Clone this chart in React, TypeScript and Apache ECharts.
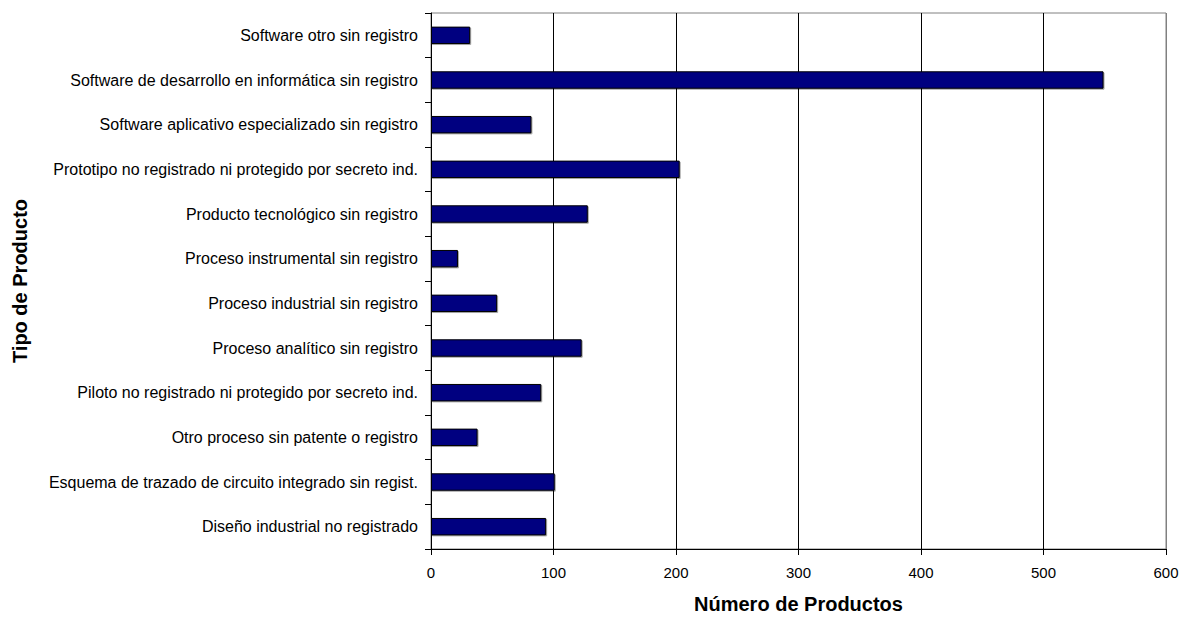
import React, { useEffect, useRef } from "react";
import * as echarts from "echarts";

const categories = [
  "Software otro sin registro",
  "Software de desarrollo en informática sin registro",
  "Software aplicativo especializado sin registro",
  "Prototipo no registrado ni protegido por secreto ind.",
  "Producto tecnológico sin registro",
  "Proceso instrumental sin registro",
  "Proceso industrial sin registro",
  "Proceso analítico sin registro",
  "Piloto no registrado ni protegido por secreto ind.",
  "Otro proceso sin patente o registro",
  "Esquema de trazado de circuito integrado sin regist.",
  "Diseño industrial no registrado",
];
const values = [32, 549, 82, 203, 128, 22, 54, 123, 90, 38, 101, 94];
const xTitle = "Número de Productos";
const yTitle = "Tipo de Producto";

export default function App() {
  const ref = useRef<HTMLDivElement>(null);
  useEffect(() => {
    const chart = echarts.init(ref.current!, null, { renderer: "svg" });
    const font = "Liberation Sans, Arial, sans-serif";
    chart.setOption({
      animation: false,
      backgroundColor: "#ffffff",
      textStyle: { fontFamily: font },
      grid: {
        left: 431,
        right: 18,
        top: 13,
        bottom: 63,
        show: true,
        borderColor: "#808080",
        borderWidth: 1,
        backgroundColor: "transparent",
      },
      xAxis: {
        type: "value",
        min: 0,
        max: 600,
        interval: 100,
        name: xTitle,
        nameLocation: "middle",
        nameGap: 45,
        nameTextStyle: { fontFamily: font, fontSize: 20, fontWeight: "bold", color: "#000" },
        axisLine: { show: true, lineStyle: { color: "#000", width: 1 } },
        axisTick: { show: true, length: 6, lineStyle: { color: "#000" } },
        axisLabel: { color: "#000", fontSize: 15, fontFamily: font, margin: 16 },
        splitLine: {
          show: true,
          lineStyle: { color: ["#000", "#000", "#000", "#000", "#000", "#000", "#808080"], width: 1 },
        },
      },
      yAxis: {
        type: "category",
        data: categories,
        inverse: true,
        name: yTitle,
        nameLocation: "middle",
        nameGap: 401,
        nameRotate: 90,
        nameTextStyle: { fontFamily: font, fontSize: 20, fontWeight: "bold", color: "#000" },
        axisLine: { show: true, lineStyle: { color: "#000", width: 1 } },
        axisTick: { show: true, length: 6, lineStyle: { color: "#000" } },
        axisLabel: { color: "#000", fontSize: 16, fontFamily: font, margin: 13 },
        splitLine: { show: false },
      },
      series: [
        {
          type: "bar",
          data: values,
          barCategoryGap: "61%",
          itemStyle: {
            color: "#000080",
            borderColor: "#000000",
            borderWidth: 1,
            shadowColor: "rgba(0,0,0,0.35)",
            shadowOffsetX: 1,
            shadowOffsetY: 1,
            shadowBlur: 0,
          },
        },
      ],
    });
    return () => chart.dispose();
  }, []);
  return <div ref={ref} style={{ width: 1184, height: 619, position: "absolute", left: 0, top: 0 }} />;
}
